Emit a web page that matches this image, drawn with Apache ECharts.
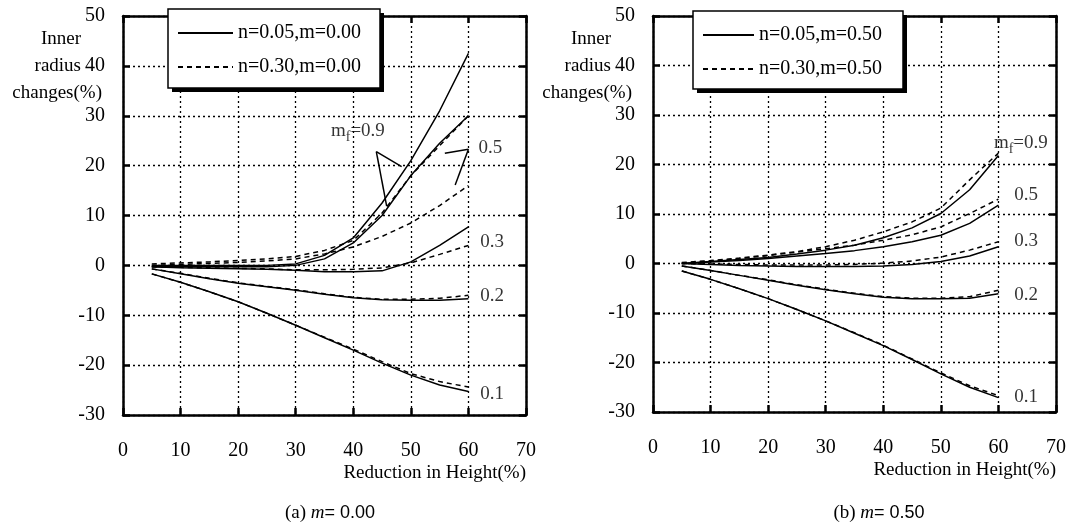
<!DOCTYPE html>
<html><head><meta charset="utf-8">
<script src="https://cdn.jsdelivr.net/npm/echarts/dist/echarts.min.js"></script>
<style>html,body{margin:0;padding:0;background:#fff}#c{width:1076px;height:526px}</style>
</head><body><div id="c"></div>
<script>
// ---------- data ----------
const X = [5, 10, 15, 20, 25, 30, 35, 40, 45, 50, 55, 60];
const xTicks = [0, 10, 20, 30, 40, 50, 60, 70];
const yTicks = [-30, -20, -10, 0, 10, 20, 30, 40, 50];

// (a) m = 0.00
const a_s09 = [0, 0, 0, 0, 0, 0.3, 2, 5.5, 12.5, 21, 31, 42.5];
const a_d09 = [0.3, 0.5, 0.7, 1, 1.3, 1.8, 3, 5, 10.5, 18, 24, 30];
const a_s05 = [-0.3, -0.3, -0.3, -0.3, -0.3, 0, 1.3, 4.5, 10, 18, 24.5, 30];
const a_d05 = [0, 0.2, 0.4, 0.6, 0.9, 1.3, 2.3, 3.7, 5.8, 8.5, 12, 16];
const a_s03 = [-0.3, -0.5, -0.6, -0.7, -0.8, -1, -1.3, -1.3, -1.1, 0.7, 4, 7.7];
const a_d03 = [-0.3, -0.4, -0.5, -0.6, -0.7, -0.9, -0.9, -0.8, -0.5, 0.5, 2.2, 4];
const a_s02 = [-0.7, -1.7, -2.7, -3.6, -4.3, -5, -5.8, -6.5, -6.9, -7, -7, -6.7];
const a_d02 = [-0.7, -1.6, -2.6, -3.5, -4.2, -4.9, -5.7, -6.4, -6.8, -6.8, -6.6, -6];
const a_s01 = [-1.7, -3.4, -5.3, -7.3, -9.6, -12, -14.5, -17, -19.6, -22, -24, -25.3];
const a_d01 = [-1.7, -3.4, -5.3, -7.3, -9.6, -12, -14.4, -16.8, -19.3, -21.7, -23.3, -24.4];

// (b) m = 0.50
const b_s09 = [0, 0.4, 0.8, 1.2, 1.9, 2.7, 3.7, 5.2, 7.2, 10.1, 14.9, 21.8];
const b_d09 = [0.2, 0.6, 1.1, 1.7, 2.4, 3.4, 4.7, 6.4, 8.4, 11.2, 16.9, 22.3];
const b_s05 = [0, 0.3, 0.6, 1.0, 1.5, 2.0, 2.6, 3.4, 4.4, 5.7, 8.1, 11.8];
const b_d05 = [0.1, 0.5, 1.0, 1.6, 2.3, 3.0, 3.7, 4.7, 5.8, 7.4, 10.1, 13.0];
const b_s03 = [0, -0.2, -0.4, -0.5, -0.6, -0.6, -0.6, -0.5, -0.2, 0.4, 1.5, 3.4];
const b_d03 = [0, -0.1, -0.2, -0.3, -0.3, -0.3, -0.2, 0.1, 0.5, 1.3, 2.7, 4.4];
const b_s02 = [-0.5, -1.4, -2.4, -3.4, -4.4, -5.3, -6.1, -6.8, -7.1, -7.1, -7.0, -6.1];
const b_d02 = [-0.5, -1.4, -2.4, -3.3, -4.3, -5.2, -6.0, -6.7, -7.0, -7.0, -6.7, -5.4];
const b_s01 = [-1.5, -3.2, -5.1, -7.1, -9.3, -11.6, -14.1, -16.6, -19.4, -22.3, -25.0, -27.1];
const b_d01 = [-1.5, -3.2, -5.1, -7.1, -9.3, -11.6, -14.0, -16.5, -19.3, -22.1, -24.7, -26.7];

const legendA = ['n=0.05,m=0.00', 'n=0.30,m=0.00'];
const legendB = ['n=0.05,m=0.50', 'n=0.30,m=0.50'];
const curveLabels = ['m_f=0.9', '0.5', '0.3', '0.2', '0.1'];
const yName = ['Inner', 'radius', 'changes(%)'];
const xName = 'Reduction in Height(%)';

// ---------- annotation anchors (data units) ----------
const annA = [[40.8, 26.6], [63.8, 23.6], [64.1, 4.7], [64.1, -6.1], [64.1, -25.8]];
const annB = [[63.9, 24.0], [64.8, 13.9], [64.8, 4.5], [64.8, -6.4], [64.8, -26.9]];
const pointersA = [
  [[44.0, 22.8], [48.4, 19.8]],
  [[44.0, 22.8], [45.8, 11.9]],
  [[60.0, 23.3], [55.9, 22.5]],
  [[60.0, 23.3], [57.7, 16.1]]
];

// ---------- helpers ----------
const F = '"Liberation Serif", "Times New Roman", serif';
const FS = '"Liberation Sans", Arial, sans-serif';
const BLK = '#000';
const pts = v => X.map((x, i) => [x, v[i]]);

function line(name, vals, gi, dashed) {
  return {
    type: 'line', name, xAxisIndex: gi * 2, yAxisIndex: gi * 2,
    data: pts(vals), symbol: 'none', smooth: false, silent: true,
    lineStyle: { color: BLK, width: 1.5, type: dashed ? [5, 4] : 'solid' },
    itemStyle: { color: BLK }, z: 3
  };
}

function axesX(gi) {
  const common = {
    type: 'value', gridIndex: gi, min: 0, max: 70, interval: 10,
    axisLine: { onZero: false, lineStyle: { color: BLK, width: 2.5 } },
    axisTick: { inside: true, length: 7, lineStyle: { color: BLK, width: 2.5 } }
  };
  return [
    Object.assign({}, common, {
      position: 'bottom',
      axisLabel: { margin: 26, color: BLK, fontFamily: F, fontSize: 20,
        formatter: v => xTicks.includes(v) ? String(v) : '' },
      splitLine: { show: true, lineStyle: { color: BLK, type: [2, 3], width: 1.3 } },
      name: xName, nameLocation: 'end', nameGap: 0, nameMoveOverlap: false,
      nameTextStyle: { color: BLK, fontFamily: F, fontSize: 19, align: 'right', verticalAlign: 'top', padding: [49, 0, 0, 0] }
    }),
    Object.assign({}, common, { position: 'top', axisLabel: { show: false }, splitLine: { show: false } })
  ];
}
function axesY(gi) {
  const common = {
    type: 'value', gridIndex: gi, min: -30, max: 50, interval: 10,
    axisLine: { onZero: false, lineStyle: { color: BLK, width: 2.5 } },
    axisTick: { inside: true, length: 7, lineStyle: { color: BLK, width: 2.5 } }
  };
  return [
    Object.assign({}, common, {
      position: 'left',
      axisLabel: { margin: 18, color: BLK, fontFamily: F, fontSize: 20,
        formatter: v => yTicks.includes(v) ? String(v) : '' },
      splitLine: { show: true, lineStyle: { color: BLK, type: [2, 3], width: 1.3 } }
    }),
    Object.assign({}, common, { position: 'right', axisLabel: { show: false }, splitLine: { show: false } })
  ];
}

function annSeries(gi, anchors, pointers) {
  return {
    type: 'scatter', name: 'labels' + gi, xAxisIndex: gi * 2, yAxisIndex: gi * 2,
    symbolSize: 1, silent: true, itemStyle: { color: 'rgba(0,0,0,0)' },
    data: anchors,
    label: {
      show: true, position: 'inside', color: BLK, fontFamily: F, fontSize: 19,
      formatter: p => {
        const t = curveLabels[p.dataIndex];
        return t.startsWith('m_f') ? '{m|m}{f|f}{m|' + t.slice(3) + '}' : t;
      },
      rich: {
        m: { fontFamily: F, fontSize: 19, color: BLK, lineHeight: 22, verticalAlign: 'top' },
        f: { fontFamily: F, fontSize: 14, color: BLK, lineHeight: 22, verticalAlign: 'top', padding: [9, 0, 0, 0] }
      }
    },
    markLine: pointers ? {
      silent: true, symbol: ['none', 'none'], animation: false,
      lineStyle: { color: BLK, width: 1.5, type: 'solid' }, label: { show: false },
      data: pointers.map(p => [{ coord: p[0] }, { coord: p[1] }])
    } : undefined,
    z: 4
  };
}

function legend(names, left, top, itemW) {
  return {
    data: names, orient: 'vertical', left, top, itemWidth: itemW, itemHeight: 14, itemGap: 14,
    padding: [14, 18, 11, 9], backgroundColor: 'rgba(0,0,0,0)', borderWidth: 0,
    selectedMode: false,
    itemStyle: { opacity: 0, color: 'rgba(0,0,0,0)', borderWidth: 0 },
    textStyle: { color: BLK, fontFamily: F, fontSize: 20 }, z: 10
  };
}
// legend frame (white box with a hard drop shadow)
function legendFrame(x, y, w, h) {
  return [
    { type: 'rect', z: 8, silent: true, shape: { x: x + 4, y: y + 4, width: w, height: h }, style: { fill: BLK } },
    { type: 'rect', z: 9, silent: true, shape: { x, y, width: w, height: h }, style: { fill: '#fff', stroke: BLK, lineWidth: 1.5 } }
  ];
}
function yNameText(axisX) {
  return { type: 'text', x: axisX - 21, y: 26, silent: true,
    style: { text: '{p|' + yName[0] + '}\n{p|' + yName[1] + '}\n{q|' + yName[2] + '}', align: 'right', verticalAlign: 'top',
      rich: { p: { fontFamily: F, fontSize: 19, lineHeight: 27, fill: BLK, padding: [0, 21, 0, 0] },
              q: { fontFamily: F, fontSize: 19, lineHeight: 27, fill: BLK } } } };
}
function caption(x, tag, val) {
  return { type: 'text', x, y: 513, silent: true,
    style: { text: '{a|' + tag + ' }{m|m}{b|= ' + val + '}', align: 'center', verticalAlign: 'middle',
      rich: { a: { fontFamily: F, fontSize: 19, fill: BLK }, m: { fontFamily: F, fontSize: 19, fontStyle: 'italic', fill: BLK },
              b: { fontFamily: FS, fontSize: 18, fill: BLK } } } };
}

const chart = echarts.init(document.getElementById('c'), null, { renderer: 'canvas' });
chart.setOption({
  animation: false,
  backgroundColor: '#fff',
  grid: [
    { left: 123, top: 16, right: 550, bottom: 111, outerBoundsMode: 'none', containLabel: false },
    { left: 653, top: 16, right: 20, bottom: 114, outerBoundsMode: 'none', containLabel: false }
  ],
  xAxis: [...axesX(0), ...axesX(1)],
  yAxis: [...axesY(0), ...axesY(1)],
  legend: [legend(legendA, 168, 9, 55), legend(legendB, 693, 11, 51)],
  series: [
    line(legendA[0], a_s09, 0, false), line(legendA[1], a_d09, 0, true),
    line(legendA[0], a_s05, 0, false), line(legendA[1], a_d05, 0, true),
    line(legendA[0], a_s03, 0, false), line(legendA[1], a_d03, 0, true),
    line(legendA[0], a_s02, 0, false), line(legendA[1], a_d02, 0, true),
    line(legendA[0], a_s01, 0, false), line(legendA[1], a_d01, 0, true),
    line(legendB[0], b_s09, 1, false), line(legendB[1], b_d09, 1, true),
    line(legendB[0], b_s05, 1, false), line(legendB[1], b_d05, 1, true),
    line(legendB[0], b_s03, 1, false), line(legendB[1], b_d03, 1, true),
    line(legendB[0], b_s02, 1, false), line(legendB[1], b_d02, 1, true),
    line(legendB[0], b_s01, 1, false), line(legendB[1], b_d01, 1, true),
    annSeries(0, annA, pointersA),
    annSeries(1, annB, null)
  ],
  graphic: [
    ...legendFrame(168, 9, 212, 79),
    ...legendFrame(693, 11, 210, 78),
    yNameText(123),
    yNameText(653),
    caption(330, '(a)', '0.00'),
    caption(879, '(b)', '0.50')
  ]
});
</script></body></html>
